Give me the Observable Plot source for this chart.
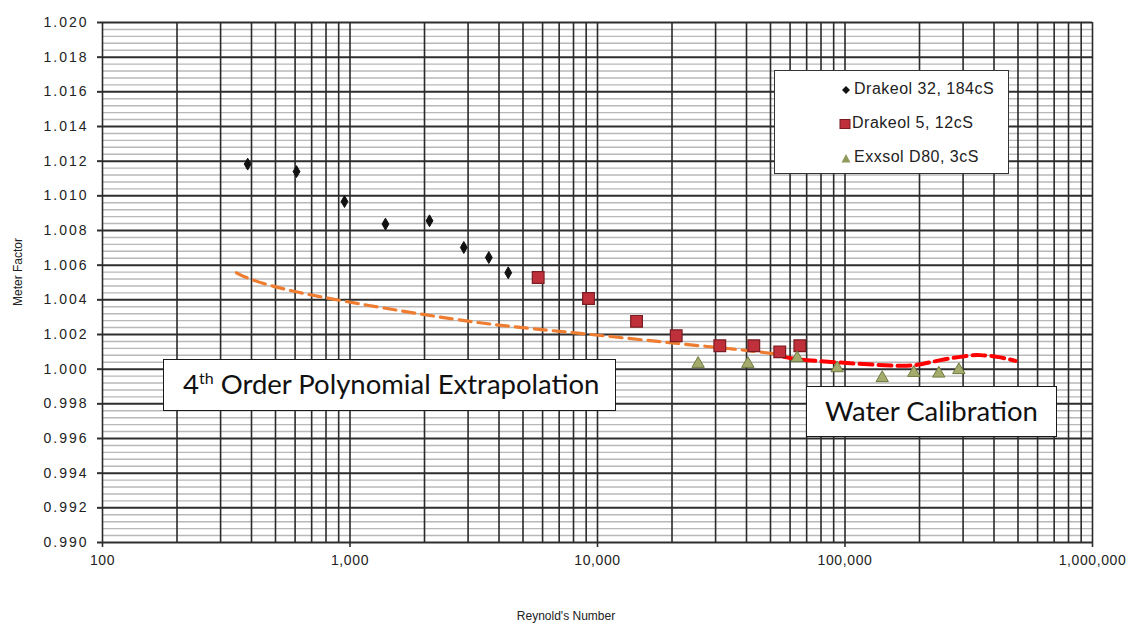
<!DOCTYPE html>
<html><head><meta charset="utf-8">
<script src="https://cdn.jsdelivr.net/npm/d3@7"></script>
<script src="https://cdn.jsdelivr.net/npm/@observablehq/plot@0.6"></script>
<style>
body{margin:0;background:#fff;}
#wrap{position:relative;width:1131px;height:624px;overflow:hidden;}
.box{position:absolute;background:#fff;border:1.5px solid #1a1a1a;box-sizing:border-box;font-family:Lato,"Open Sans",sans-serif;color:#111;white-space:nowrap;}
.leg{position:absolute;left:0;font-family:"Liberation Sans",Arial,sans-serif;font-size:16px;letter-spacing:0.5px;color:#222;}
.title{position:absolute;font-family:"Liberation Sans",Arial,sans-serif;font-size:12px;color:#222;white-space:nowrap;}
</style></head><body><div id="wrap"></div>
<script>
// Drakeol 32, 184cS
const drakeol32Re = [386, 608, 950, 1391, 2095, 2883, 3638, 4358];
const drakeol32MF = [1.01183, 1.0114, 1.00967, 1.00837, 1.00856, 1.00702, 1.00644, 1.00556];
// Drakeol 5, 12cS
const drakeol5Re = [5759, 9198, 14380, 20800, 31200, 42800, 54500, 65700];
const drakeol5MF = [1.00529, 1.00408, 1.00276, 1.00193, 1.00135, 1.00135, 1.0010, 1.00135];
// Exxsol D80, 3cS
const exxsolRe = [25500, 40500, 64100, 93000, 141400, 189700, 239300, 288400];
const exxsolMF = [1.00031, 1.00031, 1.00064, 1.00006, 0.99949, 0.99979, 0.99975, 0.99995];
// 4th order polynomial extrapolation (orange dashed)
const polyRe = [348, 396, 631, 1600, 3700, 8535, 21050, 35440, 56420];
const polyMF = [1.00556, 1.0052, 1.00441, 1.00337, 1.0026, 1.00206, 1.00148, 1.00116, 1.00083];
// Water calibration (red dashed)
const waterRe = [56570, 70370, 108500, 157500, 195700, 243200, 311700, 352800, 412100, 488700];
const waterMF = [1.00071, 1.00052, 1.00033, 1.0002, 1.00025, 1.00052, 1.00077, 1.00081, 1.00071, 1.00048];
// axis ticks
const xTicks = [100, 1000, 10000, 100000, 1000000];
const yTicks = [0.990, 0.992, 0.994, 0.996, 0.998, 1.000, 1.002, 1.004, 1.006, 1.008, 1.010, 1.012, 1.014, 1.016, 1.018, 1.020];
const seriesNames = ["Drakeol 32, 184cS", "Drakeol 5, 12cS", "Exxsol D80, 3cS"];

const zip = (xs, ys) => xs.map((x, i) => ({x, y: ys[i]}));
const d32 = zip(drakeol32Re, drakeol32MF);
const d5 = zip(drakeol5Re, drakeol5MF);
const exx = zip(exxsolRe, exxsolMF);
const poly = zip(polyRe, polyMF);
const water = zip(waterRe, waterMF);

// log minor grid positions and y minor grid (every 0.0004)
const xGrid = [];
for (let k = 0; k < 4; k++) for (let m = 1; m <= 9; m++) xGrid.push(m * xTicks[k]);
xGrid.push(xTicks[4]);
const yMinor = [];
for (let i = 0; i < yTicks.length - 1; i++) for (let j = 1; j < 5; j++) yMinor.push(yTicks[i] + j * 0.0004);

const chart = Plot.plot({
  width: 1131, height: 624,
  marginLeft: 102, marginRight: 39, marginTop: 22, marginBottom: 82,
  x: {type: "log", domain: [100, 1000000]},
  y: {domain: [0.990, 1.020]},
  style: {fontFamily: "'Liberation Sans', Arial, sans-serif", background: "white", color: "#222"},
  marks: [
    Plot.ruleY(yMinor, {stroke: "#b8b8b8", strokeWidth: 1.4}),
    Plot.ruleY(yTicks, {stroke: "#2e2e2e", strokeWidth: 2}),
    Plot.ruleX(xGrid, {stroke: "#2a2a2a", strokeWidth: 1.6}),
    Plot.axisY({ticks: yTicks, tickFormat: d3.format(".3f"), tickSize: 5, tickPadding: 9, fontSize: 14, label: null, stroke: "#2e2e2e", strokeWidth: 2}),
    Plot.axisX({ticks: xTicks, tickFormat: d3.format(","), tickSize: 5, tickPadding: 8, fontSize: 14, label: null, stroke: "#2e2e2e", strokeWidth: 1.6}),
    Plot.line(poly, {x: "x", y: "y", curve: "natural", stroke: "#ee7d31", strokeWidth: 3.2, strokeDasharray: "12,7"}),
    Plot.line(water, {x: "x", y: "y", curve: "natural", stroke: "#ff0000", strokeWidth: 4, strokeDasharray: "13,6"}),
    Plot.dot(d32, {x: "x", y: "y", symbol: "diamond", r: 3.6, fill: "#111", stroke: "#111", strokeWidth: 1}),
    Plot.dot(d5, {x: "x", y: "y", symbol: "square", r: 6.6, fill: "#c0303b", stroke: "#7a1d22", strokeWidth: 1.2}),
    Plot.dot(exx, {x: "x", y: "y", symbol: "triangle", r: 4.6, fill: "#a5ab6c", stroke: "#6f7a40", strokeWidth: 1})
  ]
});
const svg = d3.select(chart);
svg.selectAll('g[aria-label="y-axis tick label"] text').attr("letter-spacing", "2");
svg.selectAll('g[aria-label="x-axis tick label"] text').attr("letter-spacing", "0.6");
const wrap = document.getElementById("wrap");
wrap.appendChild(chart);

function add(html) { const t = document.createElement("div"); t.innerHTML = html; wrap.appendChild(t.firstElementChild); }

// legend
add(`<div class="box" style="left:774px;top:70px;width:235px;height:104px;border:1.5px solid #333;">
  <div class="leg" style="top:9px;left:66px;"><svg width="10" height="10" style="vertical-align:middle;margin-right:3px;"><path d="M5,1 L9,5 L5,9 L1,5Z" fill="#111"/></svg>${seriesNames[0]}</div>
  <div class="leg" style="top:43px;left:64px;"><svg width="12" height="10" style="vertical-align:middle;margin-right:1px;"><rect x="1" y="0.5" width="10" height="9" fill="#c0303b" stroke="#7a1d22"/></svg>${seriesNames[1]}</div>
  <div class="leg" style="top:77px;left:66px;"><svg width="10" height="10" style="vertical-align:middle;margin-right:3px;"><path d="M5,1 L9.5,9.5 L0.5,9.5Z" fill="#8e9a5c"/></svg>${seriesNames[2]}</div>
</div>`);

// annotations
add(`<div class="box" style="left:163px;top:359px;width:453px;height:52px;font-size:27.5px;line-height:48px;padding-left:19px;">4<sup style="font-size:16px;line-height:0;">th</sup> Order Polynomial Extrapolation</div>`);
add(`<div class="box" style="left:806px;top:386px;width:251px;height:51px;font-size:27.5px;line-height:47px;text-align:center;">Water Calibration</div>`);

// axis titles
add(`<div class="title" style="left:566px;top:609px;transform:translateX(-50%);">Reynold's Number</div>`);
add(`<div class="title" style="left:18px;top:272px;transform:translate(-50%,-50%) rotate(-90deg);">Meter Factor</div>`);
</script>
</body></html>
